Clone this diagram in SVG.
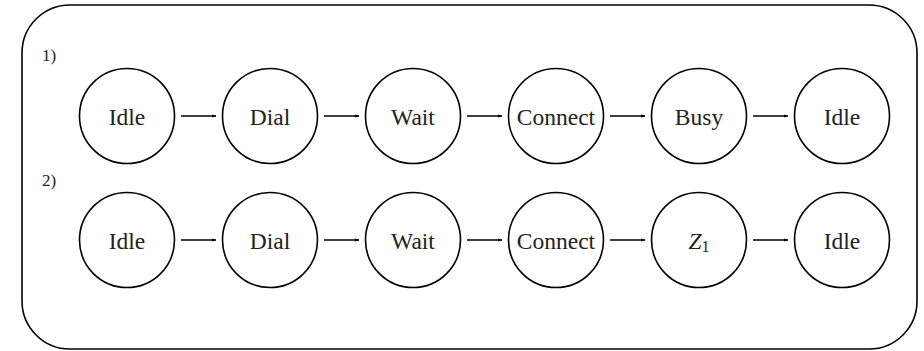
<svg xmlns="http://www.w3.org/2000/svg" width="924" height="351" viewBox="0 0 924 351">
  <style>
    .frame { fill: none; stroke: #000; stroke-width: 1.6; }
    .state circle { fill: #fff; stroke: #000; stroke-width: 1.6; }
    .state text { font-family: "Liberation Serif", "DejaVu Serif", serif; font-size: 23.5px; fill: #222; text-anchor: middle; dominant-baseline: central; }
    .tag { font-family: "Liberation Serif", "DejaVu Serif", serif; font-size: 17px; fill: #222; }
    .edges line { stroke: #000; stroke-width: 1.6; marker-end: url(#head); }
  </style>
  <defs>
    <marker id="head" viewBox="0 0 10 10" refX="9" refY="5" markerWidth="5" markerHeight="5" markerUnits="userSpaceOnUse" orient="auto">
      <path d="M0,1.5 L10,5 L0,8.5 Z" fill="#000"/>
    </marker>
  </defs>

  <rect class="frame" x="22" y="5" width="895" height="344" rx="48" ry="48"/>

  <text class="tag" x="42" y="61">1)</text>
  <text class="tag" x="42" y="186">2)</text>

  <!-- row 1 -->
  <g id="r1-idle" class="state"><circle cx="127" cy="116" r="47.5"/><text x="127" y="117">Idle</text></g>
  <g id="r1-dial" class="state"><circle cx="270" cy="116" r="47.5"/><text x="270" y="117">Dial</text></g>
  <g id="r1-wait" class="state"><circle cx="413" cy="116" r="47.5"/><text x="413" y="117">Wait</text></g>
  <g id="r1-connect" class="state"><circle cx="556" cy="116" r="47.5"/><text x="556" y="117">Connect</text></g>
  <g id="r1-busy" class="state"><circle cx="699" cy="116" r="47.5"/><text x="699" y="117">Busy</text></g>
  <g id="r1-idle2" class="state"><circle cx="842" cy="116" r="47.5"/><text x="842" y="117">Idle</text></g>

  <!-- row 2 -->
  <g id="r2-idle" class="state"><circle cx="127" cy="240" r="47.5"/><text x="127" y="241">Idle</text></g>
  <g id="r2-dial" class="state"><circle cx="270" cy="240" r="47.5"/><text x="270" y="241">Dial</text></g>
  <g id="r2-wait" class="state"><circle cx="413" cy="240" r="47.5"/><text x="413" y="241">Wait</text></g>
  <g id="r2-connect" class="state"><circle cx="556" cy="240" r="47.5"/><text x="556" y="241">Connect</text></g>
  <g id="r2-z1" class="state"><circle cx="699" cy="240" r="47.5"/><text x="699" y="241"><tspan font-style="italic">Z</tspan><tspan font-size="16" dy="5">1</tspan></text></g>
  <g id="r2-idle2" class="state"><circle cx="842" cy="240" r="47.5"/><text x="842" y="241">Idle</text></g>

  <g id="connectors" class="edges">
    <line x1="181" y1="116" x2="216" y2="116"/>
    <line x1="324" y1="116" x2="359" y2="116"/>
    <line x1="467" y1="116" x2="502" y2="116"/>
    <line x1="610" y1="116" x2="645" y2="116"/>
    <line x1="753" y1="116" x2="788" y2="116"/>
    <line x1="181" y1="240" x2="216" y2="240"/>
    <line x1="324" y1="240" x2="359" y2="240"/>
    <line x1="467" y1="240" x2="502" y2="240"/>
    <line x1="610" y1="240" x2="645" y2="240"/>
    <line x1="753" y1="240" x2="788" y2="240"/>
  </g>
</svg>
